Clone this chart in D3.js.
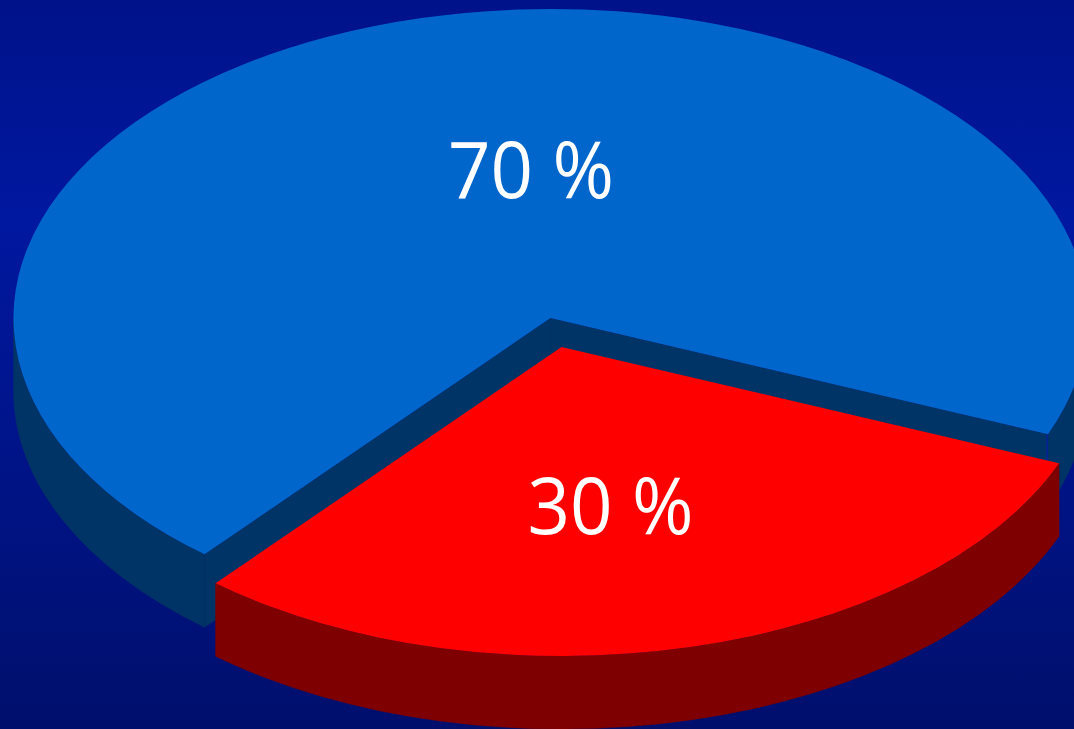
<!DOCTYPE html>
<html>
<head>
<meta charset="utf-8">
<script src="https://cdn.jsdelivr.net/npm/d3@7/dist/d3.min.js"></script>
<style>html,body{margin:0;padding:0;background:#00128a;overflow:hidden}svg{display:block}</style>
</head>
<body>
<svg id="chart" width="1074" height="729"></svg>
<script>
const categories = ["Red", "Blue"];
const seriesValues = [30, 70];
const sliceLabels = ["30 %", "70 %"];
const topColors = ["#ff0000", "#0066cc"];
const wallColors = ["#7f0000", "#003366"];
const sliceCenters = [[561.5, 347], [550.5, 318]];
const labelBaselines = [[610.5, 534], [531, 198]];

const W = 1074, H = 729, rx = 537, ry = 309, depth = 73;
const toRad = d => d * Math.PI / 180;
const svg = d3.select("#chart");

const grad = svg.append("defs").append("linearGradient")
  .attr("id", "bg").attr("x1", 0).attr("y1", 0).attr("x2", 0).attr("y2", 1);
[[0, "#00128a"], [0.3, "#0018a0"], [0.6, "#00148a"], [1, "#000f6c"]]
  .forEach(([o, c]) => grad.append("stop").attr("offset", o).attr("stop-color", c));
svg.append("rect").attr("width", W).attr("height", H).attr("fill", "url(#bg)");

const pie = d3.pie().sort(null).startAngle(toRad(112.1)).endAngle(toRad(472.1));
const arcs = pie(seriesValues);
const arc = d3.arc().innerRadius(0).outerRadius(rx);

const pt = (a, c, dy = 0) => [c[0] + rx * Math.sin(a), c[1] - ry * Math.cos(a) + dy];

function wallPath(a0, a1, c) {
  const s = pt(a0, c), e = pt(a1, c), s2 = pt(a0, c, depth), e2 = pt(a1, c, depth);
  const large = a1 - a0 > Math.PI ? 1 : 0;
  return `M${s}A${rx},${ry} 0 ${large} 1 ${e}L${e2}A${rx},${ry} 0 ${large} 0 ${s2}Z`;
}
const frontWindows = [[Math.PI / 2, 3 * Math.PI / 2], [5 * Math.PI / 2, 7 * Math.PI / 2]];

function drawSlice(i) {
  const d = arcs[i], c = sliceCenters[i];
  const g = svg.append("g");
  frontWindows.forEach(([lo, hi]) => {
    const a0 = Math.max(d.startAngle, lo), a1 = Math.min(d.endAngle, hi);
    if (a1 > a0) g.append("path").attr("d", wallPath(a0, a1, c))
      .attr("fill", wallColors[i]).attr("stroke", wallColors[i]).attr("stroke-width", 0.5);
  });
  if (categories[i] === "Blue") {
    [d.startAngle, d.endAngle].forEach(a => {
      const e = pt(a, c);
      g.append("path")
        .attr("d", `M${c}L${e}L${[e[0], e[1] + depth]}L${[c[0], c[1] + depth]}Z`)
        .attr("fill", wallColors[i]).attr("stroke", wallColors[i]).attr("stroke-width", 0.5);
    });
    const e = pt(d.endAngle, c);
    g.append("line").attr("x1", e[0] - 1).attr("x2", e[0] - 1)
      .attr("y1", e[1]).attr("y2", e[1] + depth)
      .attr("stroke", "#06229a").attr("stroke-width", 1.5);
  }
  g.append("path").attr("d", arc(d))
    .attr("transform", `translate(${c[0]},${c[1]}) scale(1,${ry / rx})`)
    .attr("fill", topColors[i]);
}
drawSlice(1);
drawSlice(0);

svg.selectAll("text.label").data(sliceLabels).join("text")
  .attr("class", "label")
  .attr("x", (d, i) => labelBaselines[i][0])
  .attr("y", (d, i) => labelBaselines[i][1])
  .attr("text-anchor", "middle")
  .attr("font-family", "'Open Sans', sans-serif")
  .attr("font-size", 78)
  .attr("textLength", 166)
  .attr("lengthAdjust", "spacingAndGlyphs")
  .attr("fill", "#ffffff")
  .text(d => d);
</script>
</body>
</html>
